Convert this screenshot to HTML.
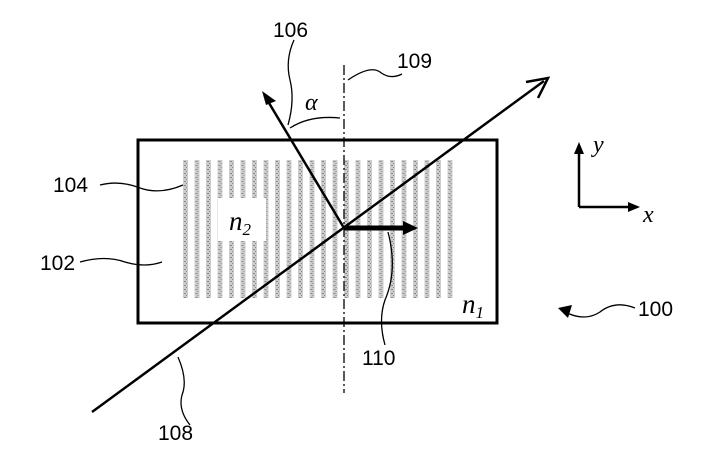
<!DOCTYPE html><html><head><style>body{margin:0;background:#fff}</style></head><body>
<svg width="718" height="463" viewBox="0 0 718 463" xmlns="http://www.w3.org/2000/svg" font-family="Liberation Sans, sans-serif">
<defs>
<pattern id="p" x="183" y="0" width="11.5" height="4" patternUnits="userSpaceOnUse"><rect x="0" y="0" width="5" height="4" fill="#ccc"/><rect x="1" y="1" width="2" height="1" fill="#888"/><rect x="3" y="3" width="1" height="1" fill="#888"/></pattern>
</defs>
<rect x="138" y="140" width="359" height="183" fill="#fff" stroke="#000" stroke-width="3"/>
<rect x="183" y="160" width="275" height="138" fill="url(#p)"/>
<rect x="218" y="198" width="48" height="43" fill="#fff"/>
<text x="229" y="230" font-family="Liberation Serif, serif" font-style="italic" font-size="27">n<tspan font-size="17" dy="5">2</tspan></text>
<text x="462" y="313" font-family="Liberation Serif, serif" font-style="italic" font-size="27">n<tspan font-size="17" dy="5">1</tspan></text>
<line x1="344" y1="65" x2="344" y2="393" stroke="#000" stroke-width="1.3" stroke-dasharray="10,3,2,3"/>
<line x1="92" y1="412" x2="544" y2="81" stroke="#000" stroke-width="2.5"/>
<polyline points="526,82 548,78 538,98" fill="none" stroke="#000" stroke-width="2.5"/>
<line x1="344" y1="228" x2="266" y2="98" stroke="#000" stroke-width="2.5"/>
<polygon points="262,91 276,101 266,105" fill="#000"/>
<line x1="344" y1="228" x2="405" y2="228" stroke="#000" stroke-width="5"/>
<polygon points="403,221 418,228 403,235" fill="#000"/>
<path d="M290 128 Q310 115 340 118" fill="none" stroke="#000" stroke-width="1.3"/>
<text x="305" y="110" font-family="Liberation Serif, serif" font-style="italic" font-size="24">α</text>
<path d="M294 40 Q285 60 290 80 Q295 100 288 125" fill="none" stroke="#000" stroke-width="1.3"/>
<text x="273" y="37" font-size="21">106</text>
<path d="M348 80 Q370 65 380 72 Q390 80 402 74" fill="none" stroke="#000" stroke-width="1.3"/>
<text x="397" y="68" font-size="21">109</text>
<path d="M100 185 Q120 180 140 188 Q160 195 183 185" fill="none" stroke="#000" stroke-width="1.3"/>
<text x="53" y="192" font-size="21">104</text>
<path d="M80 262 Q105 255 125 262 Q145 268 162 262" fill="none" stroke="#000" stroke-width="1.3"/>
<text x="40" y="270" font-size="21">102</text>
<path d="M388 232 Q398 270 385 300 Q378 320 385 345" fill="none" stroke="#000" stroke-width="1.3"/>
<text x="362" y="365" font-size="21">110</text>
<path d="M178 357 Q188 380 182 395 Q178 410 190 425" fill="none" stroke="#000" stroke-width="1.3"/>
<text x="158" y="440" font-size="21">108</text>
<path d="M635 308 Q615 300 600 312 Q585 322 565 312" fill="none" stroke="#000" stroke-width="1.3"/>
<polygon points="558,308 572,305 568,318" fill="#000"/>
<text x="638" y="316" font-size="21">100</text>
<line x1="579" y1="207" x2="630" y2="207" stroke="#000" stroke-width="2.5"/>
<polygon points="628,202 640,207 628,212" fill="#000"/>
<line x1="579" y1="207" x2="579" y2="152" stroke="#000" stroke-width="2.5"/>
<polygon points="574,154 579,142 584,154" fill="#000"/>
<text x="593" y="152" font-family="Liberation Serif, serif" font-style="italic" font-size="24">y</text>
<text x="643" y="222" font-family="Liberation Serif, serif" font-style="italic" font-size="24">x</text>
</svg>
</body></html>
